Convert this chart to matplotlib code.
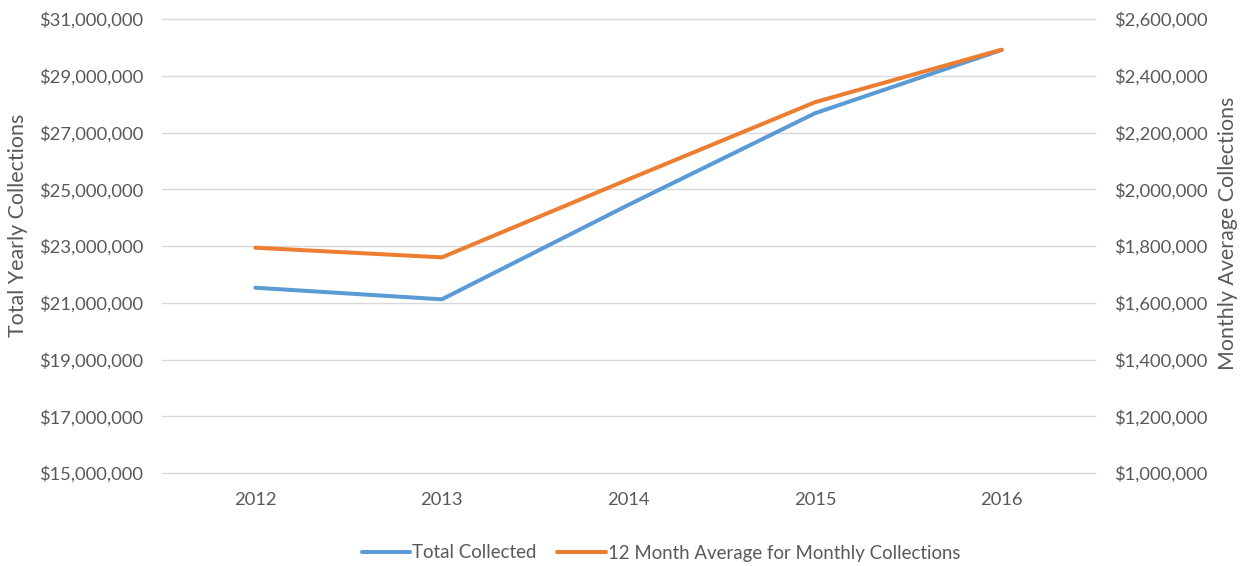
import matplotlib
matplotlib.use("Agg")
import matplotlib.pyplot as plt
from matplotlib.ticker import FuncFormatter, FixedLocator

years = ["2012", "2013", "2014", "2015", "2016"]
total_collected = [21530000, 21120000, 24450000, 27680000, 29910000]
monthly_avg = [1794000, 1760000, 2035000, 2307000, 2492000]

left_ticks = [15000000, 17000000, 19000000, 21000000, 23000000, 25000000, 27000000, 29000000, 31000000]
right_ticks = [1000000, 1200000, 1400000, 1600000, 1800000, 2000000, 2200000, 2400000, 2600000]

TXT = "#595959"
GRID = "#D9D9D9"
BLUE = "#5B9BD5"
ORANGE = "#ED7D31"

plt.rcParams['font.family'] = ['Lato', 'DejaVu Sans']

fig = plt.figure(figsize=(12.44, 5.66), dpi=100)
ax = fig.add_axes([162/1244, 1-473/566, (1095-162)/1244, (473-19)/566])
ax2 = ax.twinx()

x = list(range(len(years)))
ax.set_xlim(-0.5, len(years)-0.5)
ax.set_ylim(15000000, 31000000)
ax2.set_ylim(1000000, 2600000)

fmt = FuncFormatter(lambda v, p: "${:,.0f}".format(v))
ax.yaxis.set_major_locator(FixedLocator(left_ticks))
ax2.yaxis.set_major_locator(FixedLocator(right_ticks))
ax.yaxis.set_major_formatter(fmt)
ax2.yaxis.set_major_formatter(fmt)
ax.set_xticks(x)
ax.set_xticklabels(years)

ax.grid(axis='y', color=GRID, linewidth=1.0)
for gl in ax.get_ygridlines():
    gl.set_clip_on(False)
ax.set_axisbelow(True)
for a in (ax, ax2):
    for s in a.spines.values():
        s.set_visible(False)
    a.tick_params(length=0, colors=TXT, labelsize=13.2)
ax.tick_params(axis='y', pad=13.7)
ax2.tick_params(axis='y', pad=13.5)
ax.tick_params(axis='x', pad=14)

l1, = ax.plot(x, total_collected, color=BLUE, linewidth=2.9, solid_capstyle='round', solid_joinstyle='round', label="Total Collected", zorder=3)
l2, = ax2.plot(x, monthly_avg, color=ORANGE, linewidth=2.9, solid_capstyle='round', solid_joinstyle='round', label="12 Month Average for Monthly Collections", zorder=3)

fig.text(18/1244, 1-(225/566), "Total Yearly Collections", rotation=90, ha='center', va='center', color=TXT, fontsize=15.4)
fig.text(1228/1244, 1-(233/566), "Monthly Average Collections", rotation=90, ha='center', va='center', color=TXT, fontsize=15.4)

leg = fig.legend(handles=[l1, l2], loc='center', bbox_to_anchor=(661/1244, 1-553/566), ncol=2,
                 frameon=False, fontsize=13.4, handlelength=2.6, handletextpad=0.12, columnspacing=1.1)
for t in leg.get_texts():
    t.set_color(TXT)

fig.savefig("out.png", dpi=100)
